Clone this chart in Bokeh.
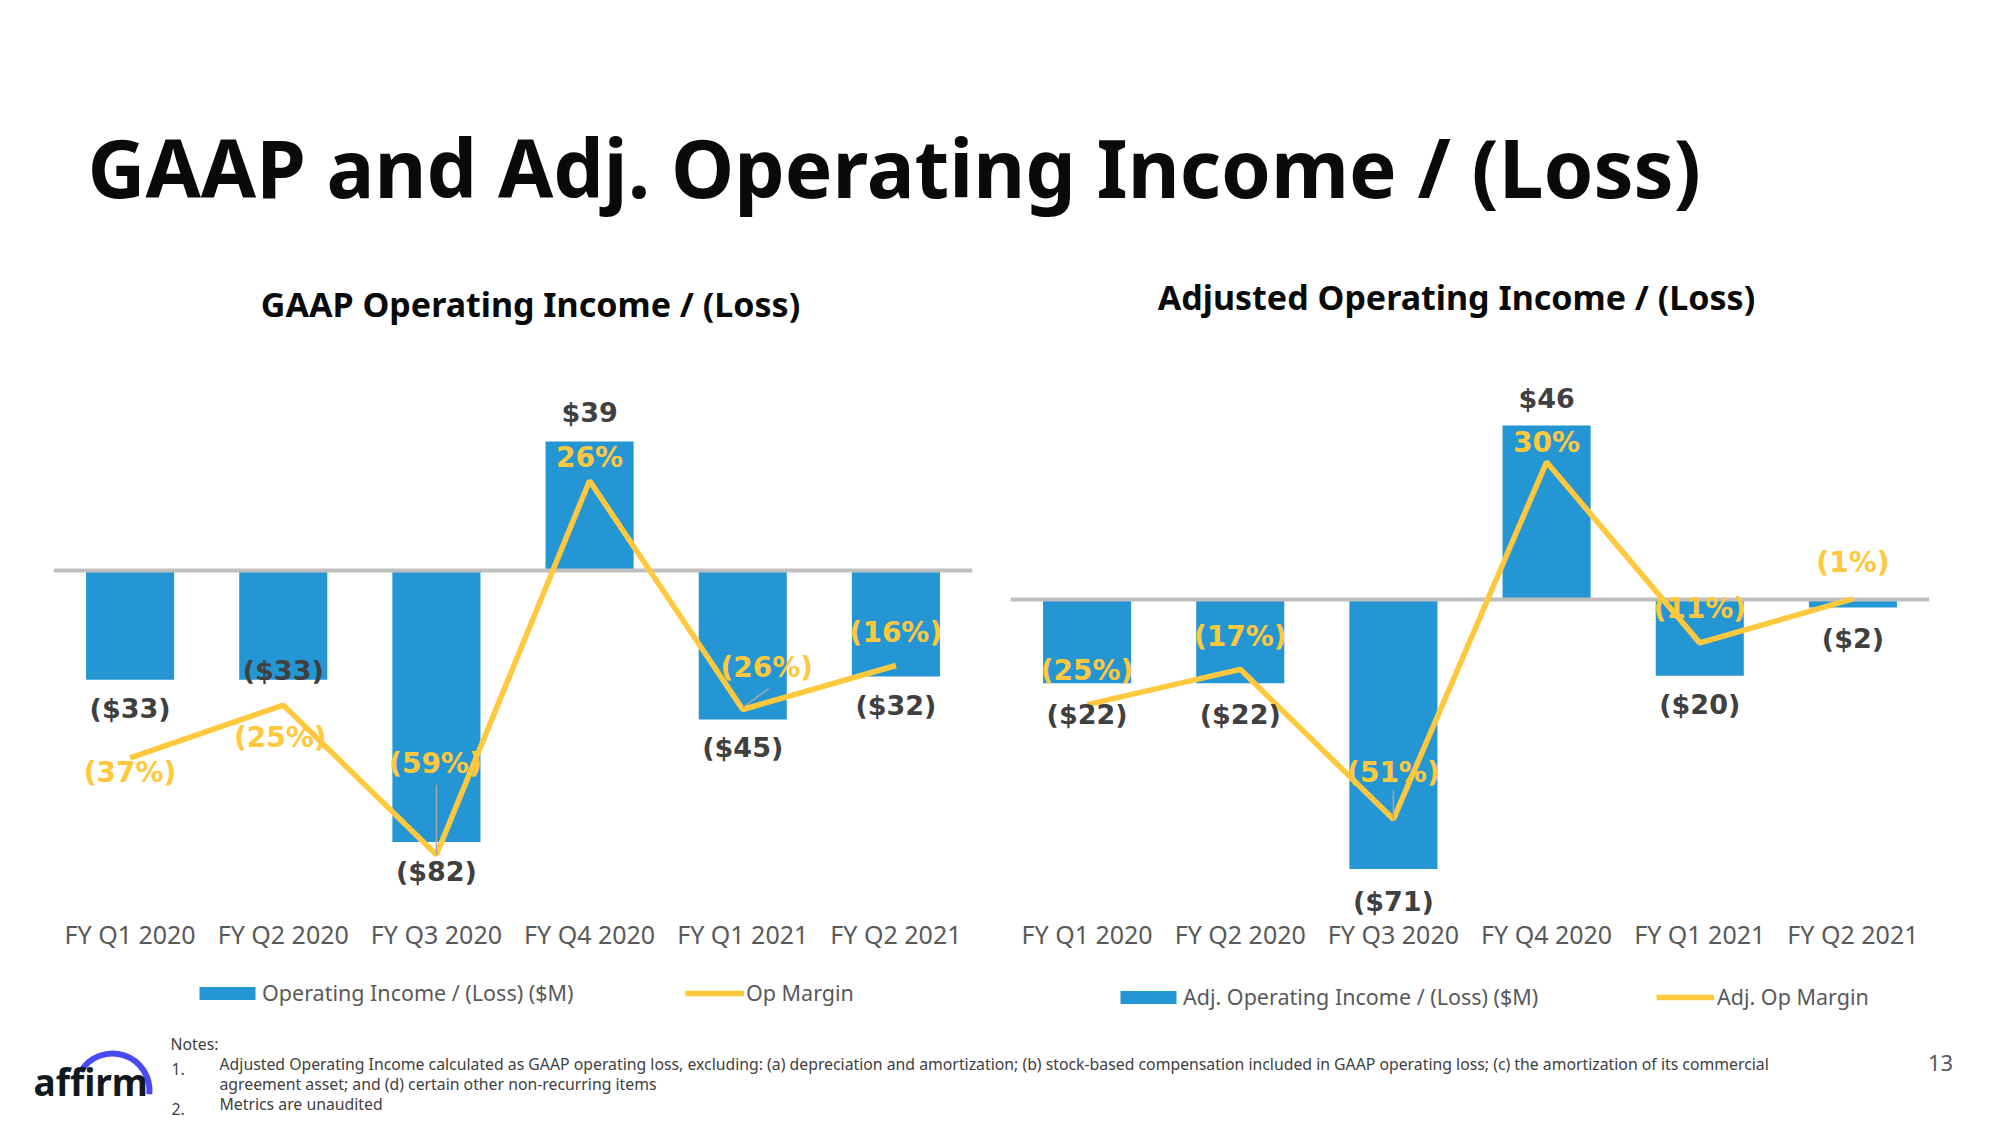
from bokeh.plotting import figure
from bokeh.models import Range1d, FactorRange, Legend, LegendItem, ColumnDataSource, Label
from bokeh.layouts import column, row
from bokeh.embed import file_html
from bokeh.resources import INLINE
from bokeh.core.properties import value

# ---------------- data ----------------
quarters = ["FY Q1 2020", "FY Q2 2020", "FY Q3 2020", "FY Q4 2020", "FY Q1 2021", "FY Q2 2021"]
gaap_income = [-33, -33, -82, 39, -45, -32]
gaap_margin = [-37, -25, -59, 26, -26, -16]
adj_income = [-22, -22, -71, 46, -20, -2]
adj_margin = [-25, -17, -51, 30, -11, -1]

main_title = "GAAP and Adj. Operating Income / (Loss)"
gaap_title = "GAAP Operating Income / (Loss)"
adj_title = "Adjusted Operating Income / (Loss)"
gaap_legend = ["Operating Income / (Loss) ($M)", "Op Margin"]
adj_legend = ["Adj. Operating Income / (Loss) ($M)", "Adj. Op Margin"]
notes = [
    "Adjusted Operating Income calculated as GAAP operating loss, excluding: (a) depreciation and amortization; (b) stock-based compensation included in GAAP operating loss; (c) the amortization of its commercial",
    "agreement asset; and (d) certain other non-recurring items",
    "Metrics are unaudited",
]
page_number = "13"

# ---------------- styles ----------------
BLUE = "#2596D4"
YELLOW = "#FFC83D"
DARK = "#404040"
GRAY = "#595959"
ZERO = "#BFBFBF"
LEADER = "#A6A6A6"
TITLE_FONT = "Noto Sans"
LABEL_FONT = "DejaVu Sans"
BODY_FONT = "Noto Sans"
BAR_WIDTH = 0.575
LINE_WIDTH = 5.5

W, H = 2000, 1125
HEADER_H = 330
CHART_H = 630
FOOTER_H = H - HEADER_H - CHART_H
FRAME_TOP = 5
FRAME_BOTTOM = 588  # chart-local pixel row of frame bottom


def money(v):
    return f"${v}" if v >= 0 else f"(${-v})"


def pct(v):
    return f"{v}%" if v >= 0 else f"({-v}%)"


def canvas(w, h):
    p = figure(width=w, height=h, x_range=Range1d(0, w), y_range=Range1d(0, h),
               toolbar_location=None, output_backend="svg",
               x_axis_location=None, y_axis_location=None,
               min_border=0, outline_line_color=None)
    p.grid.visible = False
    return p


# ---------------- header ----------------
header = canvas(W, HEADER_H)
def hy(page_y):
    return HEADER_H - page_y

header.add_layout(Label(x=87, y=hy(166), text=main_title, text_font=TITLE_FONT,
                        text_font_style="bold", text_font_size="80px", text_color="#0A0A0A",
                        text_baseline="middle"))
header.add_layout(Label(x=530, y=hy(303), text=gaap_title, text_font=TITLE_FONT,
                        text_font_style="bold", text_font_size="34px", text_color="#0A0A0A",
                        text_align="center", text_baseline="middle"))
header.add_layout(Label(x=1456, y=hy(296), text=adj_title, text_font=TITLE_FONT,
                        text_font_style="bold", text_font_size="34px", text_color="#0A0A0A",
                        text_align="center", text_baseline="middle"))


# ---------------- charts ----------------
def make_chart(income, margin, yr, mr, border_l, border_r, money_dy, pct_dx, pct_dy,
               leaders):
    p = figure(width=1000, height=CHART_H, x_range=FactorRange(*quarters),
               y_range=Range1d(*yr), extra_y_ranges={"m": Range1d(*mr)},
               toolbar_location=None, output_backend="svg", y_axis_location=None,
               min_border_left=border_l, min_border_right=border_r,
               min_border_top=FRAME_TOP, min_border_bottom=CHART_H - FRAME_BOTTOM,
               outline_line_color=None)
    p.grid.visible = False
    ax = p.xaxis[0]
    ax.axis_line_color = None
    ax.major_tick_line_color = None
    ax.minor_tick_line_color = None
    ax.major_tick_out = 0
    ax.major_tick_in = 0
    ax.major_label_text_font = BODY_FONT
    ax.major_label_text_font_size = "25px"
    ax.major_label_text_color = GRAY
    ax.major_label_standoff = -2

    src = ColumnDataSource(dict(x=quarters, income=income, margin=margin,
                                mtext=[money(v) for v in income],
                                ptext=[pct(v) for v in margin],
                                mdy=money_dy, pdx=pct_dx, pdy=pct_dy))
    p.vbar(x="x", top="income", width=BAR_WIDTH, source=src, fill_color=BLUE,
           line_color=None)
    p.hspan(y=[0], line_color=ZERO, line_width=4)
    p.line(x="x", y="margin", source=src, y_range_name="m", line_color=YELLOW,
           line_width=LINE_WIDTH)

    # leader lines (category, pixel offsets from the margin point)
    frame_h = FRAME_BOTTOM - FRAME_TOP
    px_per_pct = frame_h / (mr[1] - mr[0])
    if leaders:
        x0, x1, y0, y1 = [], [], [], []
        for i, dx0, dy0, dx1, dy1 in leaders:
            x0.append((quarters[i], dx0 / 153.2))
            x1.append((quarters[i], dx1 / 153.2))
            y0.append(margin[i] - dy0 / px_per_pct)
            y1.append(margin[i] - dy1 / px_per_pct)
        p.segment(x0=x0, y0=y0, x1=x1, y1=y1, y_range_name="m", line_color=LEADER,
                  line_width=1.5)

    p.text(x="x", y="income", text="mtext", y_offset="mdy", source=src,
           text_font=value(LABEL_FONT), text_font_style="bold", text_font_size="27px",
           text_color=DARK, text_align="center", text_baseline="middle")
    p.text(x="x", y="margin", text="ptext", x_offset="pdx", y_offset="pdy", source=src,
           y_range_name="m", text_font=value(LABEL_FONT), text_font_style="bold",
           text_font_size="28px", text_color=YELLOW, text_align="center",
           text_baseline="middle")
    return p


left = make_chart(
    gaap_income, gaap_margin,
    yr=(-105.1, 71.0), mr=(-73.5, 59.0), border_l=53, border_r=28,
    money_dy=[29, -9, 29, -29, 28, 29],
    pct_dx=[0, -3, -1, 0, 24, 0],
    pct_dy=[15, 32, -91, -23, -42, -33],
    leaders=[(2, 0, -70, 0, 0), (4, 26, -21, 0, -2)],
)
right = make_chart(
    adj_income, adj_margin,
    yr=(-84.06, 69.76), mr=(-73.5, 58.7), border_l=10, border_r=71,
    money_dy=[31, 31, 32, -27, 29, 31],
    pct_dx=[0, 0, 0, 0, 0, 0],
    pct_dy=[-34, -33, -47, -20, -34, -36],
    leaders=[(2, 0, -29, 0, 0)],
)

# ---------------- footer (legends, notes, logo) ----------------
footer = canvas(W, FOOTER_H)
def fy(page_y):
    return H - page_y

# legend keys styled like the chart series (proxies kept outside the visible range)
key_bar = footer.vbar(x=[-500], top=[-500], bottom=[-600], width=BAR_WIDTH,
                      fill_color=BLUE, line_color=None)
key_line = footer.line(x=[-600, -500], y=[-500, -500], line_color=YELLOW,
                       line_width=LINE_WIDTH)
legend_specs = [
    (gaap_legend[0], key_bar, 192, 1007, 70, 0),
    (gaap_legend[1], key_line, 685, 1007, 59, 2),
    (adj_legend[0], key_bar, 1113, 1011, 70, 0),
    (adj_legend[1], key_line, 1656, 1011, 58, 3),
]
for lab, rend, x0, yb, gw, so in legend_specs:
    lg = Legend(items=[LegendItem(label=lab, renderers=[rend])],
                location=(x0, fy(yb)), orientation="horizontal", padding=0, margin=0,
                spacing=0, border_line_alpha=0, background_fill_alpha=0,
                glyph_width=gw, glyph_height=16, label_standoff=so,
                label_text_font=BODY_FONT, label_text_font_size="21.5px",
                label_text_color=GRAY)
    footer.add_layout(lg, "center")

NOTE_SIZE = "15.8px"
footer.add_layout(Label(x=170, y=fy(1054), text="Notes:", text_font=BODY_FONT,
                        text_font_size=NOTE_SIZE, text_color=DARK))
for num, yy in [("1.", 1074), ("2.", 1114)]:
    footer.add_layout(Label(x=171, y=fy(yy), text=num, text_font=BODY_FONT,
                            text_font_size=NOTE_SIZE, text_color=DARK))
for txt, yy in zip(notes, [1074, 1094, 1114]):
    footer.add_layout(Label(x=219, y=fy(yy), text=txt, text_font=BODY_FONT,
                            text_font_size=NOTE_SIZE, text_color=DARK))
footer.add_layout(Label(x=1940, y=fy(1070), text=page_number, text_font=BODY_FONT,
                        text_font_size="22px", text_color=GRAY, text_align="center"))
# affirm logo
footer.add_layout(Label(x=33, y=fy(1106), text="affirm", text_font=BODY_FONT,
                        text_font_style="bold", text_font_size="37px", text_color="#101820"))
footer.arc(x=[112], y=[fy(1090)], radius=37, start_angle=-0.1, end_angle=2.6,
           direction="anticlock", line_color="#4A4AF4", line_width=6)

layout = column(header, row(left, right), footer)
open("out.html", "w").write(file_html(layout, INLINE))
